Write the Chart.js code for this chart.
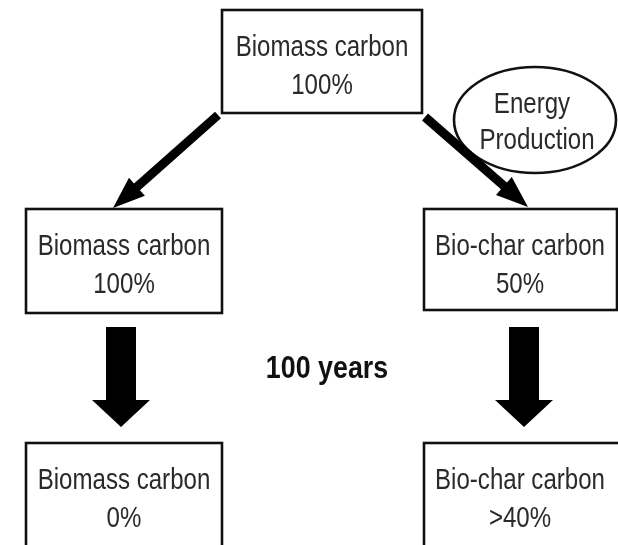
<!DOCTYPE html>
<html>
<head>
<meta charset="utf-8">
<script src="https://cdn.jsdelivr.net/npm/chart.js@4.4.1/dist/chart.umd.min.js"></script>
<style>
  html, body { margin: 0; padding: 0; background: #fff; }
  #wrap { width: 618px; height: 545px; }
</style>
</head>
<body>
<div id="wrap"><canvas id="flow"></canvas></div>
<script>
// carbon pools shown in the boxes
const poolNames = ['Biomass carbon', 'Biomass carbon', 'Bio-char carbon', 'Biomass carbon', 'Bio-char carbon'];
const poolShares = ['100%', '100%', '50%', '0%', '>40%'];
// links between pools: [from, to]
const convertLinks = [[0, 1], [0, 2]];
const decayLinks = [[1, 3], [2, 4]];
const processLabel = ['Energy', 'Production'];
const timeLabel = '100 years';

// layout in diagram units (x 0..618, y 0..545 downward)
const boxes = [
  { l: 222, t: 10, w: 200, h: 103 },
  { l: 26, t: 209, w: 196, h: 104 },
  { l: 424, t: 209, w: 193, h: 101 },
  { l: 26, t: 443, w: 196, h: 130 },
  { l: 424, t: 443, w: 200, h: 130 }
];
const textCenters = [322, 124, 520, 124, 520];
const convertArrows = [
  { from: [218, 115], to: [113, 208] },
  { from: [425, 117], to: [528, 207] }
];
const decayArrows = [
  { x: 121, top: 327, neck: 400, tip: 427 },
  { x: 524, top: 327, neck: 400, tip: 427 }
];
const ellipse = { cx: 535, cy: 120, rx: 81, ry: 53 };

const INK = '#111';
const TEXT = '#2a2a2a';
const FONT = '"Liberation Sans", Arial, sans-serif';
const NARROW = 0.83;

// condensed text: draw with a horizontal squeeze
function narrowText(ctx, str, x, y, font, squeeze) {
  ctx.save();
  ctx.font = font;
  ctx.translate(x, y);
  ctx.scale(squeeze, 1);
  ctx.fillText(str, 0, 0);
  ctx.restore();
}

const diagram = {
  id: 'diagram',
  afterDatasetsDraw(chart) {
    const { ctx, scales: { x, y } } = chart;
    const px = v => x.getPixelForValue(v);
    const py = v => y.getPixelForValue(v);
    ctx.save();
    ctx.textAlign = 'center';
    ctx.textBaseline = 'middle';

    // boxes
    ctx.lineWidth = 2.6;
    ctx.strokeStyle = INK;
    boxes.forEach((b, i) => {
      const x0 = px(b.l), y0 = py(b.t), x1 = px(b.l + b.w), y1 = py(b.t + b.h);
      ctx.fillStyle = '#fff';
      ctx.fillRect(x0, y0, x1 - x0, y1 - y0);
      ctx.strokeRect(x0, y0, x1 - x0, y1 - y0);
      ctx.fillStyle = TEXT;
      const cx = px(textCenters[i]);
      narrowText(ctx, poolNames[i], cx, py(b.t + 38), '29px ' + FONT, NARROW);
      narrowText(ctx, poolShares[i], cx, py(b.t + 76), '29px ' + FONT, NARROW);
    });

    // process ellipse
    ctx.beginPath();
    ctx.ellipse(px(ellipse.cx), py(ellipse.cy), ellipse.rx, ellipse.ry, 0, 0, Math.PI * 2);
    ctx.fillStyle = '#fff';
    ctx.fill();
    ctx.stroke();
    ctx.fillStyle = TEXT;
    narrowText(ctx, processLabel[0], px(ellipse.cx - 3), py(ellipse.cy - 15), '29px ' + FONT, NARROW);
    narrowText(ctx, processLabel[1], px(ellipse.cx + 2), py(ellipse.cy + 21), '29px ' + FONT, NARROW);

    // diagonal arrows
    ctx.fillStyle = '#000';
    convertLinks.forEach((link, i) => {
      const a = convertArrows[i];
      const x1 = px(a.from[0]), y1 = py(a.from[1]);
      const x2 = px(a.to[0]), y2 = py(a.to[1]);
      const dx = x2 - x1, dy = y2 - y1, len = Math.hypot(dx, dy);
      const ux = dx / len, uy = dy / len, nx = -uy, ny = ux;
      const sw = 4.5, hw = 12, hl = 32;
      const bx = x2 - ux * hl, by = y2 - uy * hl;
      ctx.beginPath();
      ctx.moveTo(x1 + nx * sw, y1 + ny * sw);
      ctx.lineTo(bx + nx * sw, by + ny * sw);
      ctx.lineTo(bx + nx * hw, by + ny * hw);
      ctx.lineTo(x2, y2);
      ctx.lineTo(bx - nx * hw, by - ny * hw);
      ctx.lineTo(bx - nx * sw, by - ny * sw);
      ctx.lineTo(x1 - nx * sw, y1 - ny * sw);
      ctx.closePath();
      ctx.fill();
    });

    // downward (100 years) arrows
    decayLinks.forEach((link, i) => {
      const a = decayArrows[i];
      const cx = px(a.x);
      ctx.beginPath();
      ctx.moveTo(cx - 15, py(a.top));
      ctx.lineTo(cx + 15, py(a.top));
      ctx.lineTo(cx + 15, py(a.neck));
      ctx.lineTo(cx + 29, py(a.neck));
      ctx.lineTo(cx, py(a.tip));
      ctx.lineTo(cx - 29, py(a.neck));
      ctx.lineTo(cx - 15, py(a.neck));
      ctx.closePath();
      ctx.fill();
    });

    // time label
    ctx.fillStyle = INK;
    narrowText(ctx, timeLabel, px(327), py(369), 'bold 31px ' + FONT, 0.865);

    ctx.restore();
  }
};

new Chart(document.getElementById('flow'), {
  type: 'scatter',
  data: {
    datasets: [{
      label: 'pools',
      data: boxes.map(b => ({ x: b.l + b.w / 2, y: b.t + b.h / 2 })),
      pointRadius: 0
    }]
  },
  options: {
    responsive: true,
    maintainAspectRatio: false,
    animation: false,
    layout: { padding: 0 },
    plugins: { legend: { display: false }, tooltip: { enabled: false } },
    scales: {
      x: { type: 'linear', min: 0, max: 618, display: false },
      y: { type: 'linear', min: 0, max: 545, reverse: true, display: false }
    }
  },
  plugins: [diagram]
});
</script>
</body>
</html>
